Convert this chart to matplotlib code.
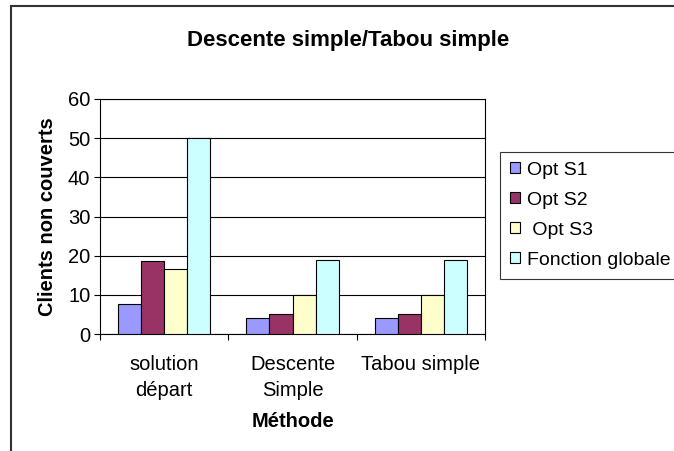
import matplotlib.pyplot as plt
import numpy as np
from matplotlib.lines import Line2D

plt.rcParams['font.family'] = ['Liberation Sans', 'DejaVu Sans']

methodes = ["solution\ndépart", "Descente\nSimple", "Tabou simple"]
series = ["Opt S1", "Opt S2", " Opt S3", "Fonction globale"]
opt_s1 = [7.7, 4, 4]
opt_s2 = [18.7, 5, 5]
opt_s3 = [16.5, 10, 10]
globale = [50, 19, 19]
couleurs = ["#9999FF", "#993366", "#FFFFCC", "#CCFFFF"]

fig = plt.figure(figsize=(6.74, 4.51), dpi=100)
ax = fig.add_axes([0.1484, 0.2594, 0.5712, 0.5211])

x = np.arange(len(methodes))
larg = 0.18
valeurs = [opt_s1, opt_s2, opt_s3, globale]
for i, v in enumerate(valeurs):
    ax.bar(x + (i - 1.5) * larg, v, larg, color=couleurs[i],
           edgecolor="black", linewidth=0.8, label=series[i], zorder=3)

ax.set_xlim(-0.5, 2.5)
ax.set_ylim(0, 60)
ax.set_yticks(np.arange(0, 61, 10))
ax.yaxis.grid(True, color="black", linewidth=0.8, zorder=0)
ax.tick_params(axis="y", labelsize=14.5, length=4, width=0.8, pad=3)

# ticks entre les catégories, étiquettes au centre
ax.set_xticks([-0.5, 0.5, 1.5, 2.5])
ax.set_xticklabels([])
ax.set_xticks(x, minor=True)
ax.set_xticklabels(methodes, minor=True, fontsize=14.5, linespacing=1.45)
ax.tick_params(axis="x", which="major", length=4, width=0.8)
ax.tick_params(axis="x", which="minor", length=0, pad=15)
for s in ax.spines.values():
    s.set_color("black")
    s.set_linewidth(0.8)

ax.set_xlabel("Méthode", fontsize=14.5, fontweight="bold", labelpad=9)
ax.set_ylabel("Clients non couverts", fontsize=14.5, fontweight="bold",
              labelpad=8)
fig.text(0.516, 0.911, "Descente simple/Tabou simple", ha="center",
         va="center", fontsize=16, fontweight="bold")

leg = fig.legend(loc="upper left", bbox_to_anchor=(0.742, 0.663),
                 fontsize=14, frameon=True, fancybox=False,
                 handlelength=0.5, handleheight=0.5, handletextpad=0.4,
                 labelspacing=0.67, borderpad=0.5, borderaxespad=0)
leg.get_frame().set_edgecolor("black")
leg.get_frame().set_linewidth(0.8)

# cadre du graphique (haut et gauche)
fig.add_artist(Line2D([11 / 674, 11 / 674], [0, 1 - 6 / 451],
                      transform=fig.transFigure, color="#333333", lw=1.5))
fig.add_artist(Line2D([11 / 674, 1], [1 - 6 / 451, 1 - 6 / 451],
                      transform=fig.transFigure, color="#333333", lw=1.5))

fig.savefig("out.png", dpi=100)
